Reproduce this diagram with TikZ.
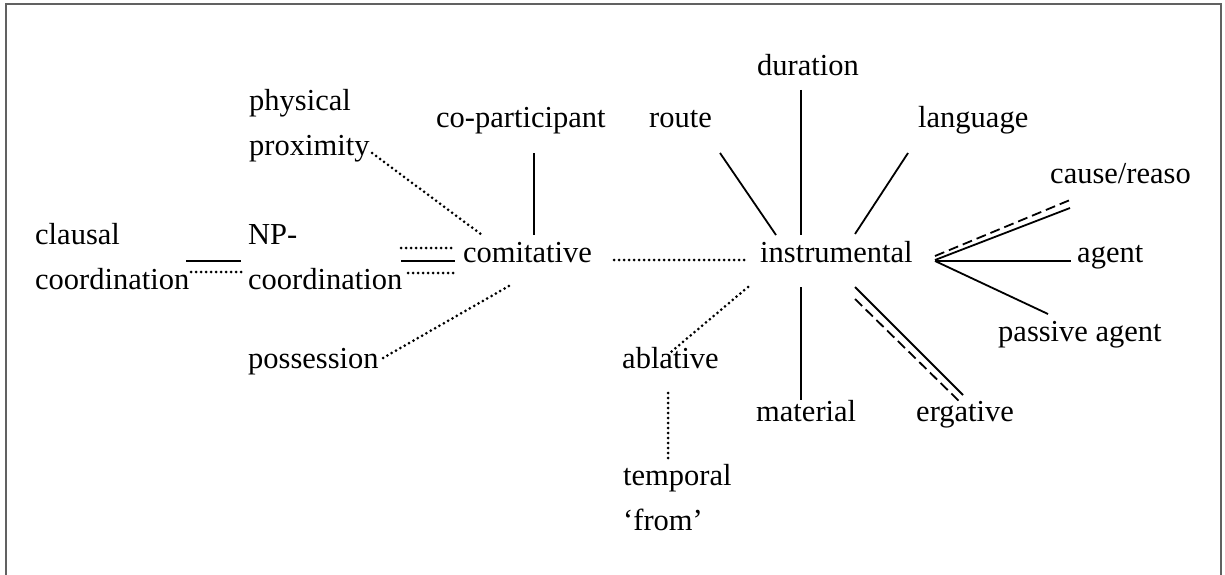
\documentclass[tikz,border=0pt]{standalone}
\usepackage{fontspec}
\setmainfont{Liberation Serif}
\begin{document}
\begin{tikzpicture}[x=1pt,y=-1pt,
  lbl/.style={anchor=base west, inner sep=0pt, font=\fontsize{30.5}{45}\selectfont, align=left},
  solidline/.style={line width=1.8pt},
  dotline/.style={line width=3pt, line cap=round, dash pattern=on 0pt off 5pt},
  dashline/.style={line width=1.8pt, dash pattern=on 10pt off 5pt},
  frame/.style={draw=black!62, line width=2pt}]
\useasboundingbox (0,0) rectangle (1225,575);
\draw[frame] (6,580) -- (6,4) -- (1221,4) -- (1221,580);

% nodes (multi-line nodes are anchored at the baseline of their last line)
\node[lbl] (clausal) at (35,289) {clausal\\coordination};
\node[lbl] (np) at (248,289) {NP-\\coordination};
\node[lbl] (phys) at (249,155) {physical\\proximity};
\node[lbl] (poss) at (248,368) {possession};
\node[lbl] (comit) at (463,262) {comitative};
\node[lbl] (copart) at (436,128) {co-participant};
\node[lbl] (route) at (649,128) {route};
\node[lbl] (dur) at (757,76) {duration};
\node[lbl] (lang) at (918,128) {language};
\node[lbl] (instr) at (760,262) {instrumental};
\node[lbl] (cause) at (1050,183) {cause/reaso};
\node[lbl] (agent) at (1077,262) {agent};
\node[lbl] (pass) at (998,341) {passive agent};
\node[lbl] (abl) at (622,368) {ablative};
\node[lbl] (mat) at (756,421) {material};
\node[lbl] (erg) at (916,421) {ergative};
\node[lbl] (temp) at (623,530) {temporal\\`from'};

% connector end points
\coordinate (cl-s1) at (186,261); \coordinate (np-s1) at (241,261);
\coordinate (cl-d1) at (191,272); \coordinate (np-d1) at (241,272);
\coordinate (np-d2) at (401,248); \coordinate (co-d2) at (455,248);
\coordinate (np-s2) at (401,261); \coordinate (co-s2) at (455,261);
\coordinate (np-d3) at (408,273); \coordinate (co-d3) at (455,273);
\coordinate (ph-e) at (372,153); \coordinate (co-ph) at (482,235);
\coordinate (po-e) at (383,358); \coordinate (co-po) at (509,286);
\coordinate (cp-e) at (534,153); \coordinate (co-cp) at (534,235);
\coordinate (co-in) at (614,260); \coordinate (in-co) at (748,260);
\coordinate (ro-e) at (720,153); \coordinate (in-ro) at (776,235);
\coordinate (du-e) at (801,90); \coordinate (in-du) at (801,235);
\coordinate (la-e) at (908,153); \coordinate (in-la) at (855,234);
\coordinate (in-ca) at (935,260); \coordinate (ca-s) at (1070,208);
\coordinate (in-ca2) at (935,256); \coordinate (ca-d) at (1070,200);
\coordinate (in-ag) at (935,261); \coordinate (ag-e) at (1071,261);
\coordinate (in-pa) at (935,261); \coordinate (pa-e) at (1048,314);
\coordinate (in-er) at (855,287); \coordinate (er-s) at (963,395);
\coordinate (in-er2) at (855,299); \coordinate (er-d) at (962,404);
\coordinate (in-ma) at (801,287); \coordinate (ma-e) at (801,400);
\coordinate (in-ab) at (748,287); \coordinate (ab-e) at (671,352);
\coordinate (ab-te) at (668,393); \coordinate (te-e) at (668,460);

% connectors
\draw[solidline] (cl-s1) -- (np-s1);
\draw[dotline] (cl-d1) -- (np-d1);
\draw[dotline] (np-d2) -- (co-d2);
\draw[solidline] (np-s2) -- (co-s2);
\draw[dotline] (np-d3) -- (co-d3);
\draw[dotline] (ph-e) -- (co-ph);
\draw[dotline] (po-e) -- (co-po);
\draw[solidline] (cp-e) -- (co-cp);
\draw[dotline] (co-in) -- (in-co);
\draw[solidline] (ro-e) -- (in-ro);
\draw[solidline] (du-e) -- (in-du);
\draw[solidline] (la-e) -- (in-la);
\draw[solidline] (in-ca) -- (ca-s);
\draw[dashline] (in-ca2) -- (ca-d);
\draw[solidline] (in-ag) -- (ag-e);
\draw[solidline] (in-pa) -- (pa-e);
\draw[solidline] (in-er) -- (er-s);
\draw[dashline] (in-er2) -- (er-d);
\draw[solidline] (in-ma) -- (ma-e);
\draw[dotline] (in-ab) -- (ab-e);
\draw[dotline] (ab-te) -- (te-e);
\end{tikzpicture}
\end{document}
